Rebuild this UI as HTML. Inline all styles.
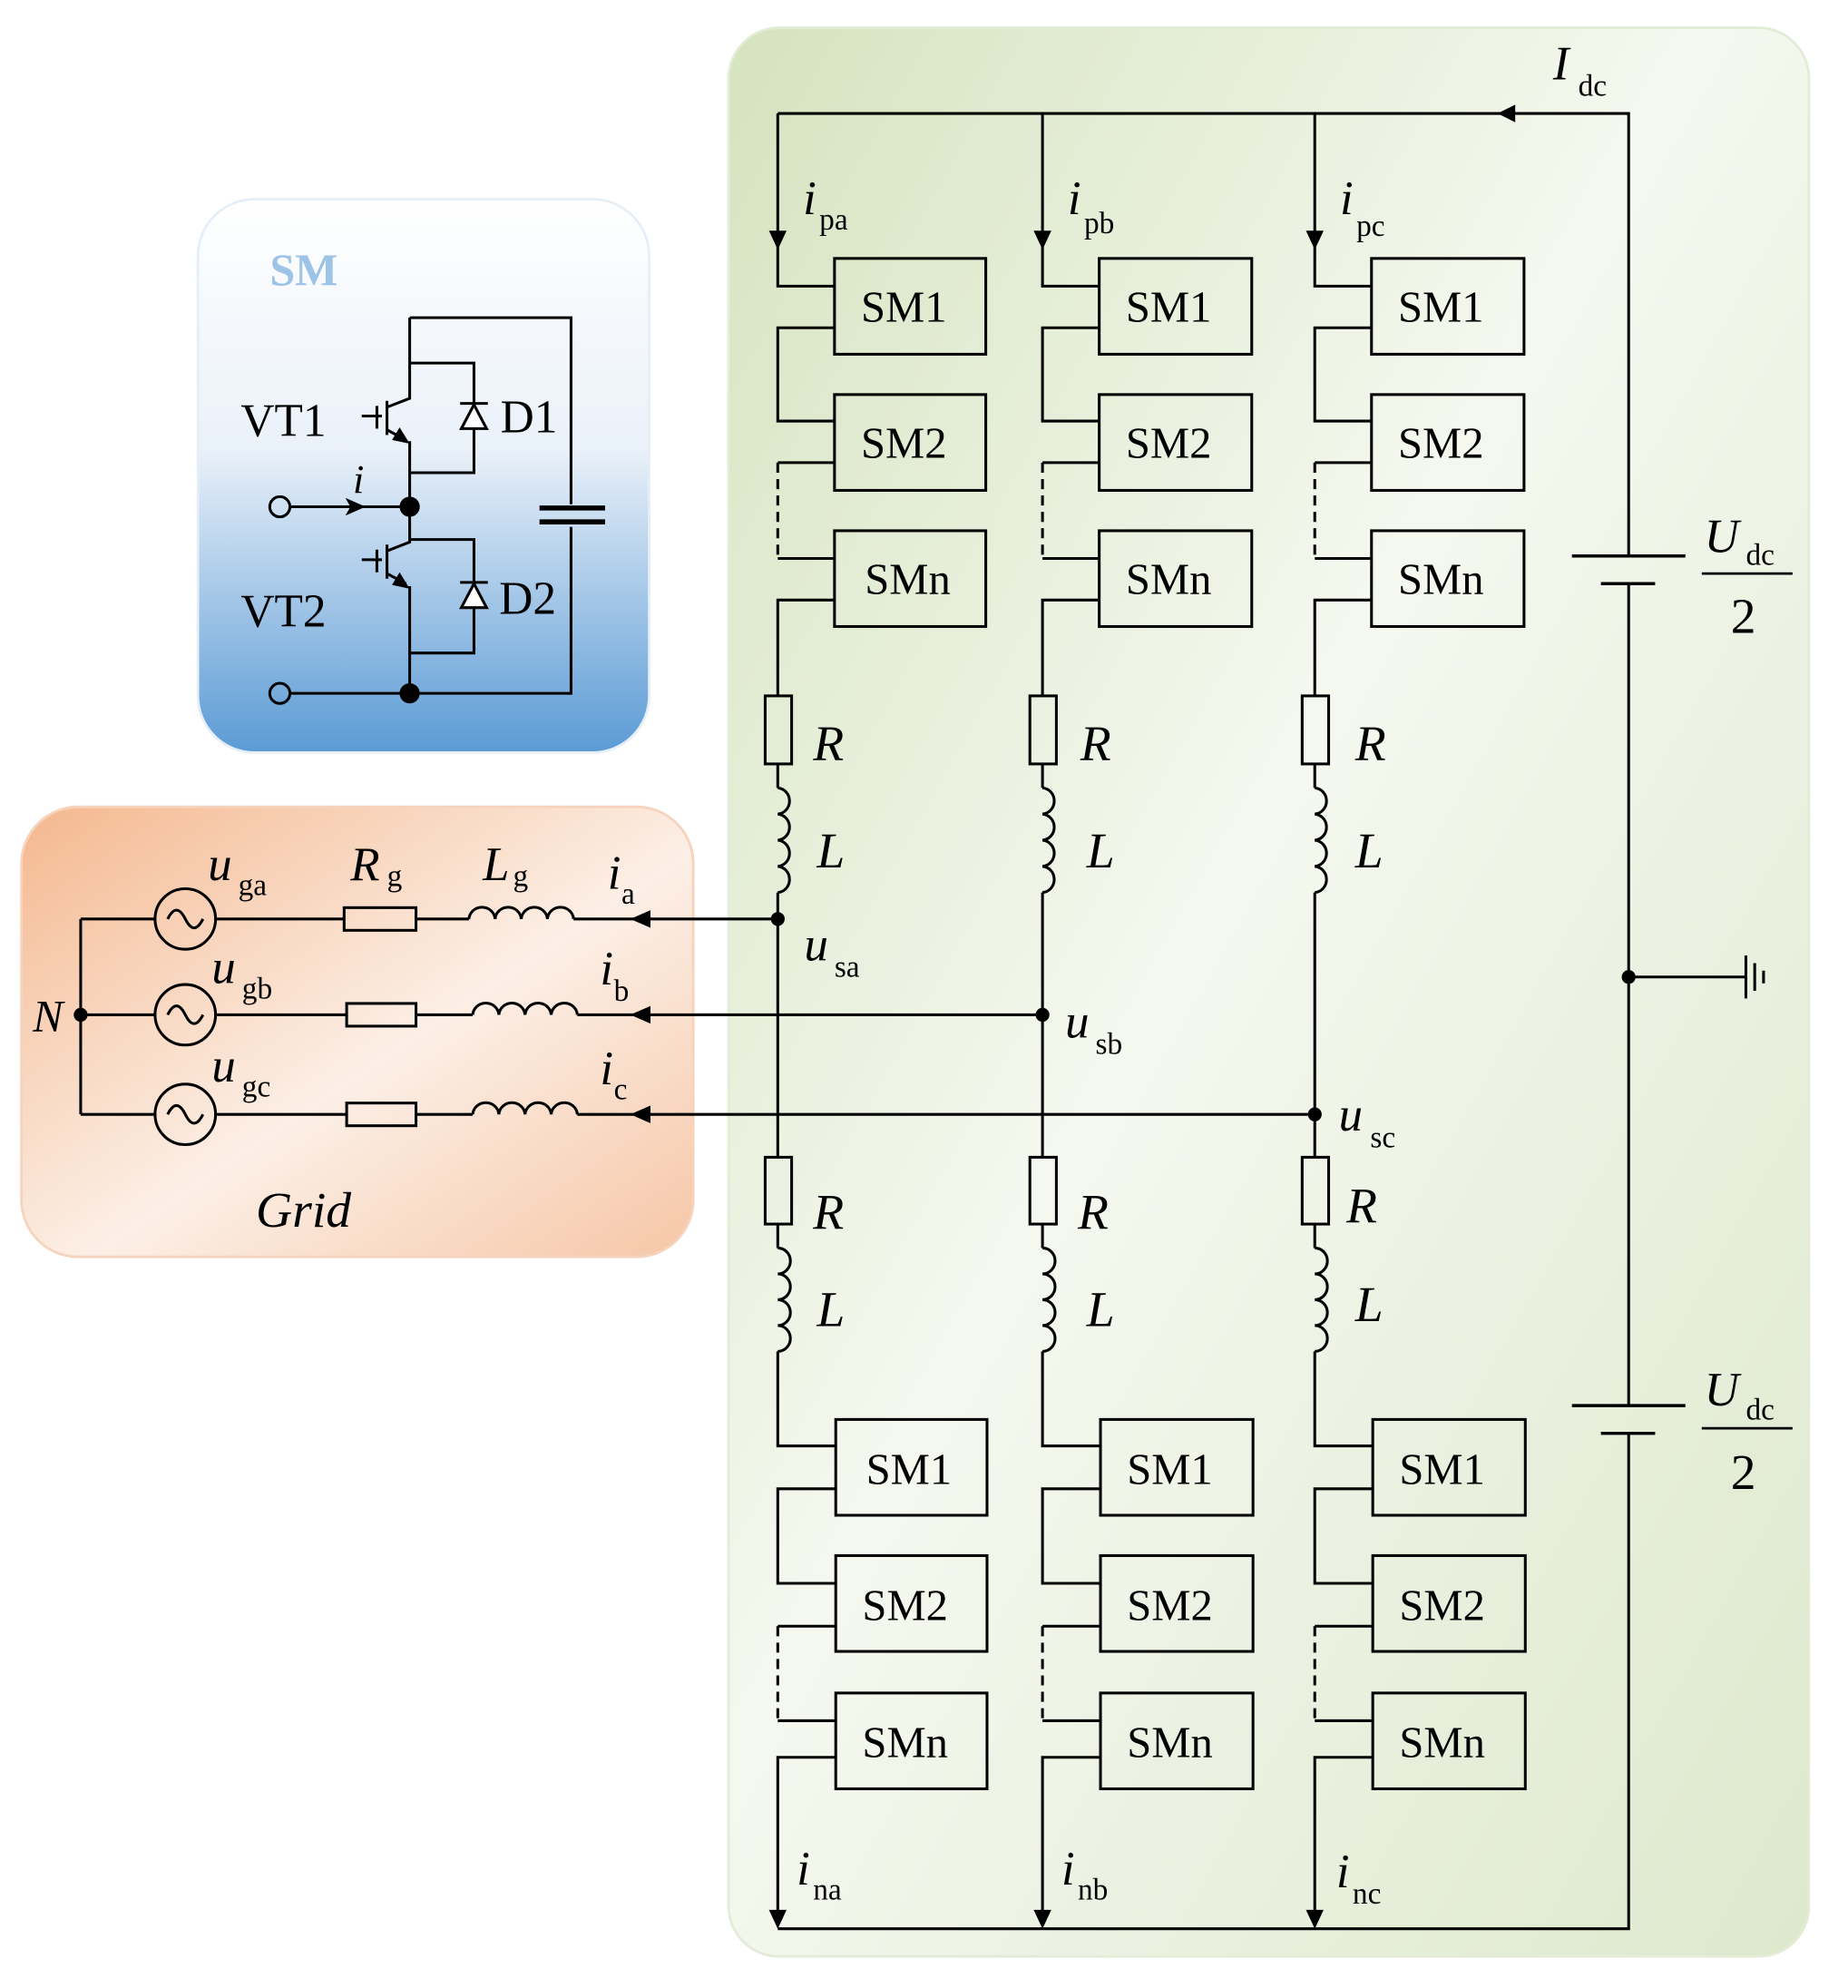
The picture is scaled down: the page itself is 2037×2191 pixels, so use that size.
<!DOCTYPE html>
<html><head><meta charset="utf-8">
<style>html,body{margin:0;padding:0;background:#fff}svg{display:block}
text{font-family:"Liberation Serif",serif;fill:#000}
.it{font-style:italic}
</style></head><body>
<svg width="2037" height="2191" viewBox="0 0 1466 1577" preserveAspectRatio="none" xmlns="http://www.w3.org/2000/svg">
<defs>
<linearGradient id="gg" x1="0" y1="0" x2="1" y2="1">
<stop offset="0" stop-color="#d5e3bf"/><stop offset="0.45" stop-color="#f5f8ef"/><stop offset="1" stop-color="#dde8cc"/></linearGradient>
<linearGradient id="bg" x1="0" y1="0" x2="0" y2="1">
<stop offset="0" stop-color="#ffffff"/><stop offset="0.45" stop-color="#eaf1f9"/><stop offset="1" stop-color="#5b9bd5"/></linearGradient>
<linearGradient id="og" x1="0" y1="0" x2="1" y2="1">
<stop offset="0" stop-color="#f4b88f"/><stop offset="0.55" stop-color="#fcefe6"/><stop offset="1" stop-color="#f6c6a6"/></linearGradient>
<marker id="ar" viewBox="0 0 10 10" refX="10" refY="5" markerWidth="9" markerHeight="9" orient="auto" markerUnits="userSpaceOnUse"><path d="M0,0 L10,5 L0,10 z" fill="#000"/></marker>
</defs>
<rect x="578" y="22" width="857" height="1530" rx="40" fill="url(#gg)" stroke="#e3ecd6" stroke-width="2"/>
<rect x="157" y="158" width="358" height="439" rx="45" fill="url(#bg)" stroke="#e6eef7" stroke-width="2"/>
<rect x="17" y="640" width="533" height="357" rx="45" fill="url(#og)" stroke="#f6d3bd" stroke-width="2"/>

<g stroke="#000" stroke-width="2.2" fill="none">
<!-- DC bus -->
<path d="M617,90 H1292 V441 M1292,463 V1115 M1292,1137 V1530 H617"/>
<path d="M1247,441 H1337 M1270,463 H1313 M1247,1115 H1337 M1270,1137 H1313" stroke-width="2.5"/>
<path d="M1292,775 H1385 M1385,758 V792 M1392,764 V786 M1399,770 V780"/>
<path d="M1350,455 H1422 M1350,1133 H1422" stroke-width="2"/>
</g>
<path d="M1188,90 l14,-7 v14z" fill="#000"/>
<circle cx="1292" cy="775" r="5.5" fill="#000"/>

<!-- legs -->
<g id="legs" stroke="#000" stroke-width="2.2" fill="none">
<!-- leg a -->
<path d="M617,90 V188 M617,195 V227 H662 M662,260 H617 V334 H662 M662,367 H617 M617,443 H662 M662,476 H617 V552 M617,606 V625 M617,708 V918 M617,971 V990 M617,1072 V1147 H663 M663,1181 H617 V1256 H663 M663,1290 H617 M617,1365 H663 M663,1394 H617 V1522"/>
<path d="M617,367 V443 M617,1290 V1365" stroke-dasharray="8,5"/>
<path d="M827,90 V188 M827,195 V227 H872 M872,260 H827 V334 H872 M872,367 H827 M827,443 H872 M872,476 H827 V552 M827,606 V625 M827,708 V918 M827,971 V990 M827,1072 V1147 H873 M873,1181 H827 V1256 H873 M873,1290 H827 M827,1365 H873 M873,1394 H827 V1522"/>
<path d="M827,367 V443 M827,1290 V1365" stroke-dasharray="8,5"/>
<path d="M1043,90 V188 M1043,195 V227 H1088 M1088,260 H1043 V334 H1088 M1088,367 H1043 M1043,443 H1088 M1088,476 H1043 V552 M1043,606 V625 M1043,708 V918 M1043,971 V990 M1043,1072 V1147 H1089 M1089,1181 H1043 V1256 H1089 M1089,1290 H1043 M1043,1365 H1089 M1089,1394 H1043 V1522"/>
<path d="M1043,367 V443 M1043,1290 V1365" stroke-dasharray="8,5"/>
<!-- boxes -->
<rect x="662" y="205" width="120" height="76"/><rect x="662" y="313" width="120" height="76"/><rect x="662" y="421" width="120" height="76"/>
<rect x="872" y="205" width="121" height="76"/><rect x="872" y="313" width="121" height="76"/><rect x="872" y="421" width="121" height="76"/>
<rect x="1088" y="205" width="121" height="76"/><rect x="1088" y="313" width="121" height="76"/><rect x="1088" y="421" width="121" height="76"/>
<rect x="663" y="1126" width="120" height="76"/><rect x="663" y="1234" width="120" height="76"/><rect x="663" y="1343" width="120" height="76"/>
<rect x="873" y="1126" width="121" height="76"/><rect x="873" y="1234" width="121" height="76"/><rect x="873" y="1343" width="121" height="76"/>
<rect x="1089" y="1126" width="121" height="76"/><rect x="1089" y="1234" width="121" height="76"/><rect x="1089" y="1343" width="121" height="76"/>
<!-- resistors -->
<rect x="607" y="552" width="21" height="54"/><rect x="817" y="552" width="21" height="54"/><rect x="1033" y="552" width="21" height="54"/>
<rect x="607" y="918" width="21" height="53"/><rect x="817" y="918" width="21" height="53"/><rect x="1033" y="918" width="21" height="53"/>
<!-- inductors -->
<path d="M617,625 a10,10.4 0 0 1 0,20.75 a10,10.4 0 0 1 0,20.75 a10,10.4 0 0 1 0,20.75 a10,10.4 0 0 1 0,20.75"/>
<path d="M827,625 a10,10.4 0 0 1 0,20.75 a10,10.4 0 0 1 0,20.75 a10,10.4 0 0 1 0,20.75 a10,10.4 0 0 1 0,20.75"/>
<path d="M1043,625 a10,10.4 0 0 1 0,20.75 a10,10.4 0 0 1 0,20.75 a10,10.4 0 0 1 0,20.75 a10,10.4 0 0 1 0,20.75"/>
<path d="M617,990 a10,10.25 0 0 1 0,20.5 a10,10.25 0 0 1 0,20.5 a10,10.25 0 0 1 0,20.5 a10,10.25 0 0 1 0,20.5"/>
<path d="M827,990 a10,10.25 0 0 1 0,20.5 a10,10.25 0 0 1 0,20.5 a10,10.25 0 0 1 0,20.5 a10,10.25 0 0 1 0,20.5"/>
<path d="M1043,990 a10,10.25 0 0 1 0,20.5 a10,10.25 0 0 1 0,20.5 a10,10.25 0 0 1 0,20.5 a10,10.25 0 0 1 0,20.5"/>
<!-- AC lines -->
<path d="M617,729 H455 M827,805 H458 M1043,884 H458"/>
<!-- grid -->
<path d="M64,729 V884 M64,729 H123 M171,729 H273 M330,729 H372 M64,805 H123 M171,805 H275 M330,805 H375 M64,884 H123 M171,884 H275 M330,884 H375"/>
<rect x="273" y="720" width="57" height="18"/><rect x="275" y="796" width="55" height="18"/><rect x="275" y="875" width="55" height="18"/>
<path d="M372,729 a10.4,10 0 0 1 20.75,0 a10.4,10 0 0 1 20.75,0 a10.4,10 0 0 1 20.75,0 a10.4,10 0 0 1 20.75,0"/>
<path d="M375,805 a10.4,10 0 0 1 20.75,0 a10.4,10 0 0 1 20.75,0 a10.4,10 0 0 1 20.75,0 a10.4,10 0 0 1 20.75,0"/>
<path d="M375,884 a10.4,10 0 0 1 20.75,0 a10.4,10 0 0 1 20.75,0 a10.4,10 0 0 1 20.75,0 a10.4,10 0 0 1 20.75,0"/>
<circle cx="147" cy="729" r="24"/><circle cx="147" cy="805" r="24"/><circle cx="147" cy="884" r="24"/>
<path d="M133,729 q7,-14 14,0 t14,0 M133,805 q7,-14 14,0 t14,0 M133,884 q7,-14 14,0 t14,0"/>
</g>
<g fill="#000">
<path d="M617,198 l-7,-15 h14z M827,198 l-7,-15 h14z M1043,198 l-7,-15 h14z"/>
<path d="M617,1530 l-7,-15 h14z M827,1530 l-7,-15 h14z M1043,1530 l-7,-15 h14z"/>
<path d="M500,729 l16,-7 v14z M500,805 l16,-7 v14z M500,884 l16,-7 v14z"/>
<circle cx="617" cy="729" r="5.5"/><circle cx="827" cy="805" r="5.5"/><circle cx="1043" cy="884" r="5.5"/><circle cx="64" cy="805" r="5.5"/>
</g>

<!-- SM circuit -->
<g stroke="#000" stroke-width="2.2" fill="none">
<path d="M325,252 H453 V400 M453,418 V550 H230 M325,252 V316 L307,323 M325,350 V430 L307,437 M325,465 V550 M230,402 H325"/>
<path d="M307,318 V345 M303,330 H287 M299,322 V340 M307,341 L322,349"/>
<path d="M307,432 V459 M303,444 H287 M299,436 V454 M307,455 L322,463"/>
<path d="M325,288 H376 V375 H325 M325,428 H376 V518 H325"/>
<path d="M365,320 H387 M365,462 H387"/>
<path d="M376,321 L366,340 H386 Z M376,463 L366,482 H386 Z" fill="#fff"/>
<path d="M428,403 H480 M428,414 H480" stroke-width="4"/>
<circle cx="222" cy="402" r="8"/><circle cx="222" cy="550" r="8"/>
</g>
<path d="M290,402 l-16,-7 l4,7 l-4,7z M325,352 l-14,-3 l6,-10z M325,467 l-14,-3 l6,-10z" fill="#000"/>
<circle cx="325" cy="402" r="8" fill="#000"/><circle cx="325" cy="550" r="8" fill="#000"/>
<text x="214" y="226" font-size="36" font-weight="bold" fill="#9dc3e6" style="fill:#9dc3e6">SM</text>
<text x="191" y="346" font-size="37">VT1</text>
<text x="191" y="497" font-size="37">VT2</text>
<text x="397" y="343" font-size="37">D1</text>
<text x="396" y="487" font-size="37">D2</text>
<text x="280" y="391" font-size="32" class="it">i</text>

<!-- SM labels -->
<g font-size="35">
<text x="683" y="255">SM1</text><text x="683" y="363">SM2</text><text x="686" y="471">SMn</text>
<text x="893" y="255">SM1</text><text x="893" y="363">SM2</text><text x="893" y="471">SMn</text>
<text x="1109" y="255">SM1</text><text x="1109" y="363">SM2</text><text x="1109" y="471">SMn</text>
<text x="687" y="1177">SM1</text><text x="684" y="1285">SM2</text><text x="684" y="1394">SMn</text>
<text x="894" y="1177">SM1</text><text x="894" y="1285">SM2</text><text x="894" y="1394">SMn</text>
<text x="1110" y="1177">SM1</text><text x="1110" y="1285">SM2</text><text x="1110" y="1394">SMn</text>
</g>
<!-- RL labels -->
<g font-size="40" class="it">
<text x="645" y="603">R</text><text x="648" y="688">L</text>
<text x="857" y="603">R</text><text x="862" y="688">L</text>
<text x="1075" y="603">R</text><text x="1075" y="688">L</text>
<text x="645" y="975">R</text><text x="648" y="1052">L</text>
<text x="855" y="975">R</text><text x="862" y="1052">L</text>
<text x="1068" y="970">R</text><text x="1075" y="1048">L</text>
<text x="26" y="818" font-size="36">N</text>
<text x="203" y="973" font-size="40">Grid</text>
</g>
<!-- current/voltage labels -->
<g font-size="38">
<text x="637" y="170" class="it">i</text><text x="650" y="182" font-size="24" font-style="normal">pa</text>
<text x="847" y="170" class="it">i</text><text x="860" y="185" font-size="24">pb</text>
<text x="1063" y="170" class="it">i</text><text x="1076" y="187" font-size="24">pc</text>
<text x="632" y="1495" class="it">i</text><text x="645" y="1507" font-size="24">na</text>
<text x="842" y="1495" class="it">i</text><text x="855" y="1507" font-size="24">nb</text>
<text x="1060" y="1497" class="it">i</text><text x="1073" y="1510" font-size="24">nc</text>
<text x="638" y="762" class="it">u</text><text x="662" y="775" font-size="24">sa</text>
<text x="845" y="823" class="it">u</text><text x="869" y="836" font-size="24">sb</text>
<text x="1062" y="897" class="it">u</text><text x="1087" y="910" font-size="24">sc</text>
<text x="482" y="705" class="it">i</text><text x="493" y="717" font-size="24">a</text>
<text x="476" y="781" class="it">i</text><text x="487" y="794" font-size="24">b</text>
<text x="476" y="860" class="it">i</text><text x="487" y="872" font-size="24">c</text>
<text x="165" y="698" class="it">u</text><text x="189" y="710" font-size="24">ga</text>
<text x="168" y="780" class="it">u</text><text x="192" y="792" font-size="24">gb</text>
<text x="168" y="858" class="it">u</text><text x="192" y="870" font-size="24">gc</text>
<text x="278" y="698" class="it">R</text><text x="307" y="703" font-size="24">g</text>
<text x="383" y="698" class="it">L</text><text x="407" y="703" font-size="24">g</text>
<text x="1232" y="63" class="it">I</text><text x="1252" y="76" font-size="24">dc</text>
<text x="1352" y="438" class="it">U</text><text x="1385" y="448" font-size="24">dc</text>
<text x="1373" y="502" font-size="40">2</text>
<text x="1352" y="1115" class="it">U</text><text x="1385" y="1126" font-size="24">dc</text>
<text x="1373" y="1181" font-size="40">2</text>
</g>
</svg>
</body></html>
